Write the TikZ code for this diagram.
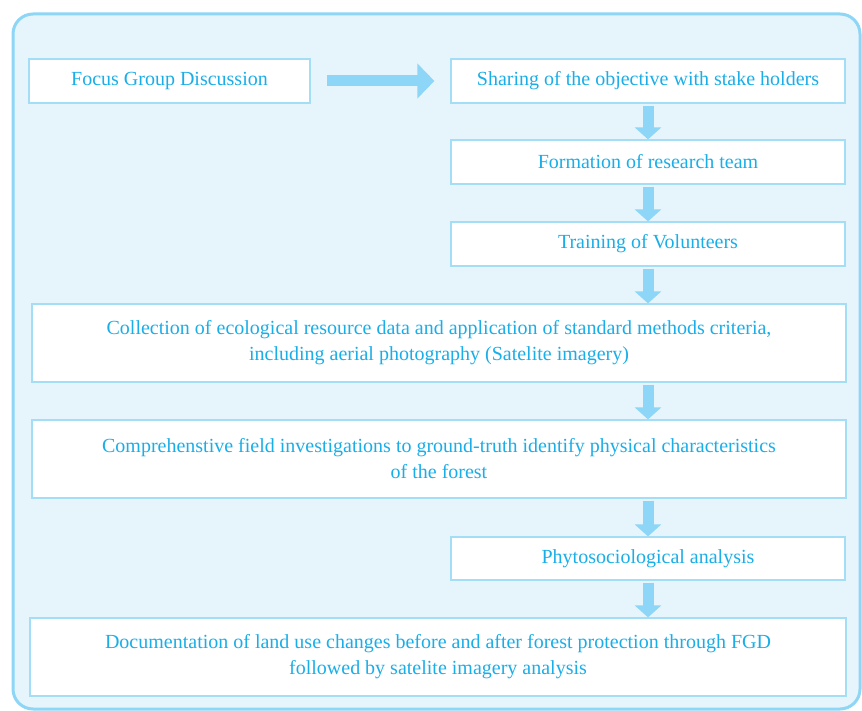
\documentclass[tikz,border=0pt]{standalone}
\usepackage{fontspec}
\setmainfont{Liberation Serif}
\usetikzlibrary{arrows.meta}
\definecolor{framecol}{HTML}{8ED6F6}
\definecolor{framefill}{HTML}{E6F5FC}
\definecolor{boxline}{HTML}{A3DDF6}
\definecolor{txtcol}{HTML}{1AAEE8}
\definecolor{arrcol}{HTML}{8ED6F7}
\tikzset{
  stepbox/.style={draw=boxline, fill=white, text=txtcol, line width=1.2pt, inner sep=0pt,
    minimum height=44pt, align=center, font=\fontsize{20}{26}\selectfont},
  shortbox/.style={stepbox, minimum width=394pt},
  widebox/.style={stepbox, minimum width=814pt, minimum height=78pt},
  downarr/.style={arrcol, line width=11pt, shorten <=2pt, -{Triangle[width=26pt,length=12pt]}},
  sidearr/.style={arrcol, line width=11pt, shorten <=16pt, shorten >=16pt, -{Triangle[width=34pt,length=17pt]}}
}
\begin{document}
\begin{tikzpicture}[x=1pt, y=-1pt]
  \useasboundingbox (0,0) rectangle (862,711);
  % outer frame
  \draw[framecol, fill=framefill, line width=3pt, rounded corners=20pt] (13,14) rectangle (860,709);
  % steps
  \node[stepbox, minimum width=281pt] (fgd) at (169.5,81) {Focus Group Discussion};
  \node[shortbox] (share) at (648,81) {Sharing of the objective with stake holders};
  \node[shortbox] (team) at (648,162) {Formation of research team};
  \node[shortbox] (train) at (648,244) {Training of Volunteers};
  \node[widebox] (collect) at (439,343) {Collection of ecological resource data and application of standard methods criteria,\\including aerial photography (Satelite imagery)};
  \node[widebox] (field) at (439,459) {Comprehenstive field investigations to ground-truth identify physical characteristics\\of the forest};
  \node[shortbox, minimum height=43pt] (phyto) at (648,558.5) {Phytosociological analysis};
  \node[widebox, minimum width=816pt] (docu) at (438,657) {Documentation of land use changes before and after forest protection through FGD\\followed by satelite imagery analysis};
  % arrows
  \draw[sidearr] (fgd.east) -- (share.west);
  \draw[downarr] (share.south) -- (team.north);
  \draw[downarr] (team.south) -- (train.north);
  \draw[downarr] (train.south) -- (train.south |- collect.north);
  \draw[downarr] (train.south |- collect.south) -- (train.south |- field.north);
  \draw[downarr] (train.south |- field.south) -- (phyto.north);
  \draw[downarr] (phyto.south) -- (phyto.south |- docu.north);
\end{tikzpicture}
\end{document}
